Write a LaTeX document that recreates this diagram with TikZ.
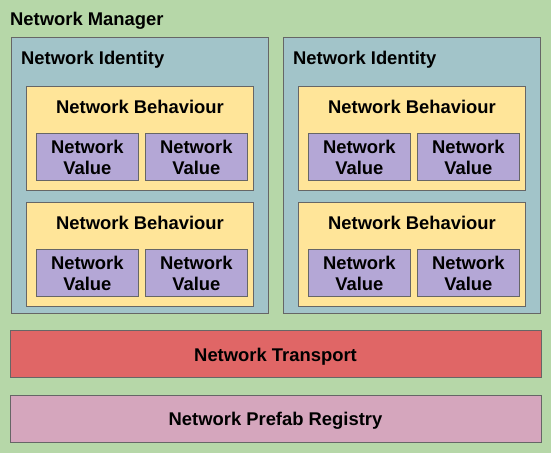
\documentclass[tikz,border=0pt]{standalone}
\usepackage{fontspec}
\setmainfont{Liberation Sans}
\definecolor{bggreen}{HTML}{B6D7A8}
\definecolor{idcol}{HTML}{A2C4C9}
\definecolor{behcol}{HTML}{FFE599}
\definecolor{valcol}{HTML}{B4A7D6}
\definecolor{trcol}{HTML}{E06666}
\definecolor{prcol}{HTML}{D5A6BD}
\definecolor{edge}{HTML}{666666}
\begin{document}
\begin{tikzpicture}[x=1bp,y=-1bp,
  box/.style={draw=edge, line width=0.9bp, anchor=north west, inner sep=0pt, outer sep=0pt},
  lbl/.style={font=\bfseries\fontsize{18.4bp}{21bp}\selectfont, inner sep=0pt, align=center},
  val/.style={box, fill=valcol, minimum width=102bp, minimum height=47bp},
  beh/.style={box, fill=behcol, minimum width=227bp, minimum height=104bp},
  ident/.style={box, fill=idcol, minimum width=257bp, minimum height=275.6bp},
  bar/.style={box, minimum width=531bp, minimum height=47bp}]
\fill[bggreen] (0,0) rectangle (551,453);
\useasboundingbox (0,0) rectangle (551,453);
\node[lbl, anchor=base west] (mgr) at (10,26) {Network Manager};
% left identity
\node[ident] (id1) at (11.7,37.7) {};
\node[lbl, anchor=base west] (id1t) at (21,64.3) {Network Identity};
\node[beh] (b11) at (26.7,86.7) {};
\node[lbl, anchor=base] (b11t) at (140,113.3) {Network Behaviour};
\node[val] (v111) at (36.3,133.3) {};
\node[val] (v112) at (145.3,133.3) {};
\node[beh] (b12) at (26.7,202.7) {};
\node[lbl, anchor=base] (b12t) at (140,229.3) {Network Behaviour};
\node[val] (v121) at (36.3,249.3) {};
\node[val] (v122) at (145.3,249.3) {};
% right identity
\node[ident] (id2) at (283.7,37.7) {};
\node[lbl, anchor=base west] (id2t) at (293,64.3) {Network Identity};
\node[beh] (b21) at (298.7,86.7) {};
\node[lbl, anchor=base] (b21t) at (412,113.3) {Network Behaviour};
\node[val] (v211) at (308.3,133.3) {};
\node[val] (v212) at (417.3,133.3) {};
\node[beh] (b22) at (298.7,202.7) {};
\node[lbl, anchor=base] (b22t) at (412,229.3) {Network Behaviour};
\node[val] (v221) at (308.3,249.3) {};
\node[val] (v222) at (417.3,249.3) {};
\foreach \v in {v111,v112,v121,v122,v211,v212,v221,v222}{
  \node[lbl, anchor=base] (\v t1) at ([yshift=3.5bp]\v.center) {Network};
  \node[lbl, anchor=base] (\v t2) at ([yshift=-17.5bp]\v.center) {Value};
}
% bars
\node[bar, fill=trcol] (tr) at (10.3,330.3) {};
\node[lbl, anchor=base] (trt) at (275.5,361) {Network Transport};
\node[bar, fill=prcol] (pr) at (10.3,395.3) {};
\node[lbl, anchor=base] (prt) at (275.5,425.3) {Network Prefab Registry};
\end{tikzpicture}
\end{document}
